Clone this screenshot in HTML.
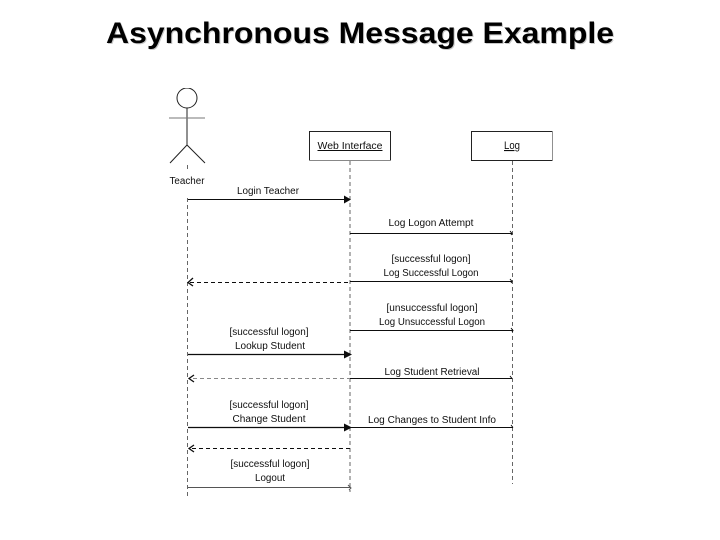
<!DOCTYPE html>
<html><head><meta charset="utf-8">
<style>
html,body{margin:0;padding:0;background:#fff;width:720px;height:540px;overflow:hidden}
svg{display:block;position:absolute;left:0;top:0}
text{font-family:"Liberation Sans",sans-serif;fill:#111;font-size:10px;text-anchor:middle}
.t{font-weight:bold;font-size:30px;fill:#000}
.s{font-weight:bold;font-size:30px;fill:#c8c8c8}
</style></head><body>
<svg width="720" height="540" viewBox="0 0 720 540">
<defs><filter id="b" x="0" y="0" width="100%" height="100%"><feGaussianBlur stdDeviation="0.35"/></filter></defs>
<text class="s" x="361" y="44" textLength="508" lengthAdjust="spacingAndGlyphs">Asynchronous Message Example</text>
<text class="t" x="360" y="43" textLength="508" lengthAdjust="spacingAndGlyphs">Asynchronous Message Example</text>
<g filter="url(#b)">
<g fill="none" stroke="#222" stroke-width="1">
<circle cx="187" cy="98" r="10"/>
<path d="M187 108V145M170 163L187 145L205 163"/>
<path d="M169 118H205" stroke="#777"/>
<path d="M309.500 160.500V131.500H390.500V160.500"/>
<path d="M309.500 160.500H390.500" stroke="#888"/>
<rect x="471.500" y="131.500" width="81" height="29"/>
</g>
<g stroke="#666" stroke-width="1" stroke-dasharray="4 3" fill="none">
<path d="M187.500 165V172M187.500 198V497"/>
<path d="M350 161V492"/>
<path d="M512.500 161V484"/>
</g>
<g fill="none" stroke="#111" stroke-width="1">
<path d="M188 199.500H345"/>
<path d="M350 233.500H512M510 231L512 233.500L511 235"/>
<path d="M350 281.500H512M510 279L512 281.500L511 283"/>
<path d="M350 330.500H513M511 328L513 330.500L512 332"/>
<path d="M350 378.500H512M510 376L512 378.500"/>
<path d="M350 427.500H513M511 425L513 427.500"/>
<path d="M188 354.500H346" stroke-width="1.300"/>
<path d="M188 427.500H346" stroke-width="1.300"/>
<path d="M188 487.500H350" stroke="#555"/>
<path d="M348 485L351 488L349 490" stroke="#555"/>
<path d="M190 282.500H350" stroke-dasharray="4 3"/>
<path d="M193 378.500H350" stroke="#888" stroke-dasharray="4 3"/>
<path d="M192 448.500H350" stroke-dasharray="4 3"/>
<path d="M193 278L188 282.500L193 286M194 375L189 378.500L194 382M194 445L189 448.500L194 452" stroke-width="1.300"/>
</g>
<g fill="#111">
<path d="M344 195.500L351 199.500L344 203.500Z"/>
<path d="M344 350.500L352 354.500L344 358.500Z"/>
<path d="M344 423.500L352 427.500L344 431.500Z"/>
</g>
<text x="187" y="184" textLength="35" lengthAdjust="spacingAndGlyphs">Teacher</text>
<text x="268" y="194" textLength="62" lengthAdjust="spacingAndGlyphs">Login Teacher</text>
<text x="350" y="149" textLength="65" lengthAdjust="spacingAndGlyphs" text-decoration="underline">Web Interface</text>
<text x="512" y="149" textLength="16" lengthAdjust="spacingAndGlyphs" text-decoration="underline" style="font-size:11px">Log</text>
<text x="431" y="226" textLength="85" lengthAdjust="spacingAndGlyphs">Log Logon Attempt</text>
<text x="431" y="262" textLength="79" lengthAdjust="spacingAndGlyphs">[successful logon]</text>
<text x="431" y="276" textLength="95" lengthAdjust="spacingAndGlyphs">Log Successful Logon</text>
<text x="432" y="311" textLength="91" lengthAdjust="spacingAndGlyphs">[unsuccessful logon]</text>
<text x="432" y="325" textLength="106" lengthAdjust="spacingAndGlyphs">Log Unsuccessful Logon</text>
<text x="269" y="335" textLength="79" lengthAdjust="spacingAndGlyphs">[successful logon]</text>
<text x="270" y="349" textLength="70" lengthAdjust="spacingAndGlyphs">Lookup Student</text>
<text x="432" y="375" textLength="95" lengthAdjust="spacingAndGlyphs">Log Student Retrieval</text>
<text x="269" y="408" textLength="79" lengthAdjust="spacingAndGlyphs">[successful logon]</text>
<text x="269" y="422" textLength="73" lengthAdjust="spacingAndGlyphs">Change Student</text>
<text x="432" y="423" textLength="128" lengthAdjust="spacingAndGlyphs">Log Changes to Student Info</text>
<text x="270" y="467" textLength="79" lengthAdjust="spacingAndGlyphs">[successful logon]</text>
<text x="270" y="481" textLength="30" lengthAdjust="spacingAndGlyphs">Logout</text>
</g>
</svg>
</body></html>
